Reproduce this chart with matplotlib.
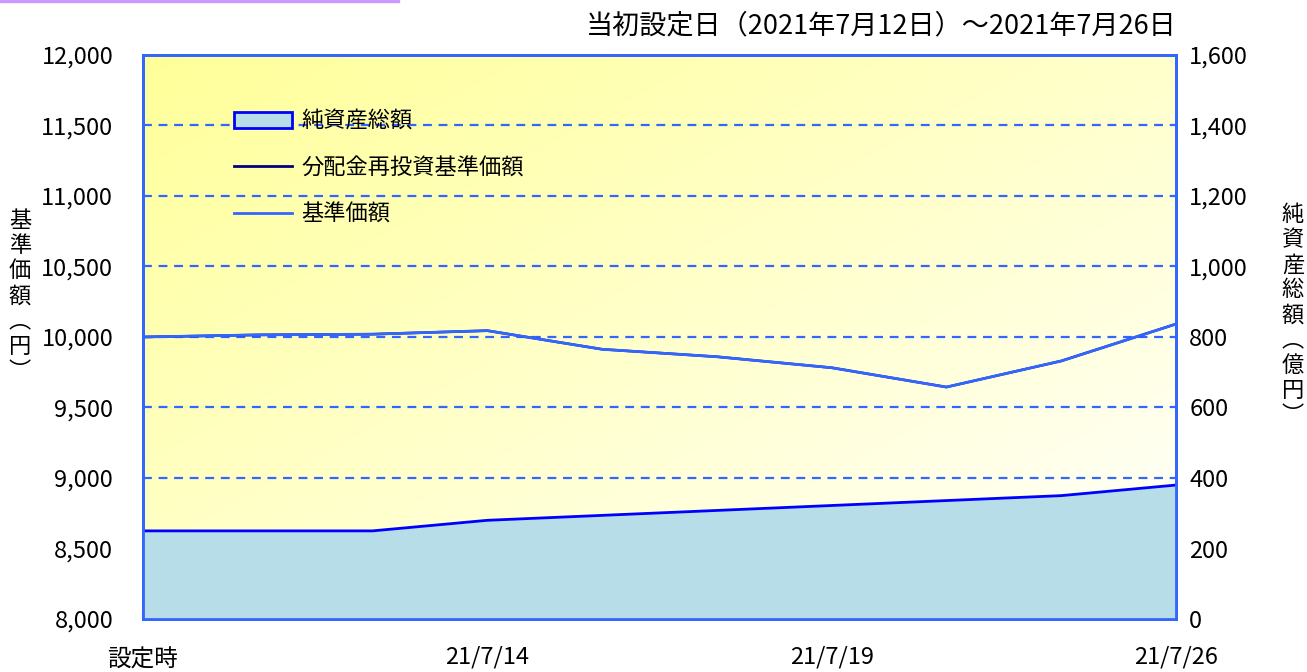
import numpy as np
import matplotlib
matplotlib.use("Agg")
import matplotlib.pyplot as plt
from matplotlib.lines import Line2D
from matplotlib.patches import Patch, Rectangle

plt.rcParams['font.family'] = ['Noto Sans CJK JP', 'DejaVu Sans']

# ---- data ----
dates = ['設定時', '21/7/12', '21/7/13', '21/7/14', '21/7/15', '21/7/16',
         '21/7/19', '21/7/20', '21/7/21', '21/7/26']
nav = [10000, 10015, 10020, 10045, 9913, 9860, 9782, 9645, 9830, 10092]
nav_reinvest = [10000, 10015, 10020, 10045, 9913, 9860, 9782, 9645, 9830, 10092]
net_assets = [250, 250, 250, 280, 294, 308, 322, 336, 350, 380]
xtick_idx = [0, 3, 6, 9]
xtick_labels = ['設定時', '21/7/14', '21/7/19', '21/7/26']
left_ticks = [8000, 8500, 9000, 9500, 10000, 10500, 11000, 11500, 12000]
right_ticks = [0, 200, 400, 600, 800, 1000, 1200, 1400, 1600]
title = '当初設定日（2021年7月12日）～2021年7月26日'
legend_labels = ['純資産総額', '分配金再投資基準価額', '基準価額']

BLUE = '#3366FF'
FS = 17

fig = plt.figure(figsize=(13.07, 6.72), dpi=100)
W, H = 1307, 672
ax = fig.add_axes([143 / W, 1 - 619 / H, (1176 - 143) / W, (619 - 55) / H])
ax2 = ax.twinx()

x = np.arange(len(dates))

# gradient background
n = 200
gx, gy = np.meshgrid(np.linspace(0, 1, n), np.linspace(1, 0, n))
t = np.clip((1 - gx) * 0.5 + gy * 0.5, 0, 1)  # 1 at top-left
img = np.zeros((n, n, 3))
img[..., 0] = 1.0
img[..., 1] = 1.0
img[..., 2] = 1.0 - t * (1 - 153 / 255)
ax.imshow(img, extent=[0, 1, 0, 1], transform=ax.transAxes, aspect='auto', zorder=0,
          interpolation='bilinear')

ax.set_xlim(0, len(dates) - 1)
ax.set_ylim(8000, 12000)
ax2.set_ylim(0, 1600)

for v in left_ticks[1:-1]:
    ax.axhline(v, color=BLUE, lw=1.6, ls=(0, (4, 3)), zorder=1)

ax.plot(x, nav_reinvest, color='#000080', lw=1.8, zorder=3)
ax.plot(x, nav, color=BLUE, lw=2.0, zorder=4)

ax2.fill_between(x, 0, net_assets, color='#B6DDE8', zorder=1)
ax2.plot(x, net_assets, color='#0000FF', lw=2.0, zorder=2)

ax.set_yticks(left_ticks)
ax.set_yticklabels([f'{v:,}' for v in left_ticks], fontsize=FS)
ax2.set_yticks(right_ticks)
ax2.set_yticklabels([f'{v:,}' for v in right_ticks], fontsize=FS)
ax.set_xticks(xtick_idx)
ax.set_xticklabels(xtick_labels, fontsize=FS)
ax.tick_params(axis='y', length=0, pad=21.5)
ax2.tick_params(axis='y', length=0, pad=9.5)
ax.tick_params(axis='x', direction='in', length=6, width=1.5, color=BLUE, pad=19)
for lbl in ax.get_xticklabels():
    if lbl.get_text() == '設定時':
        lbl.set_y(-0.005)

for a in (ax, ax2):
    for s in a.spines.values():
        s.set_color(BLUE)
        s.set_linewidth(2)
ax2.patch.set_visible(False)

# vertical axis labels
fig.text(20 / W, 1 - 296 / H, '基\n準\n価\n額\n︵\n円\n︶',
         fontsize=16, ha='center', va='center', linespacing=1.12)
fig.text(1293 / W, 1 - 315 / H, '純\n資\n産\n総\n額\n︵\n億\n円\n︶',
         fontsize=16, ha='center', va='center', linespacing=1.12)

fig.text(1177 / W, 1 - 26 / H, title, fontsize=19.5, ha='right', va='center')

fig.patches.append(Rectangle((0, 1 - 2 / H), 399 / W, 2 / H, transform=fig.transFigure,
                             color='#CC99FF', zorder=5))

handles = [Patch(facecolor='#B6DDE8', edgecolor='#0000FF', lw=2),
           Line2D([], [], color='#000080', lw=2),
           Line2D([], [], color=BLUE, lw=2)]
leg = ax2.legend(handles, legend_labels, loc='upper left',
                 bbox_to_anchor=(82 / (1176 - 143), 1 - 46 / 564),
                 frameon=False, fontsize=16, handlelength=2.6, handleheight=0.7,
                 labelspacing=1.05, handletextpad=0.45, borderaxespad=0)
leg.set_zorder(10)

fig.savefig('out.png', dpi=100)
